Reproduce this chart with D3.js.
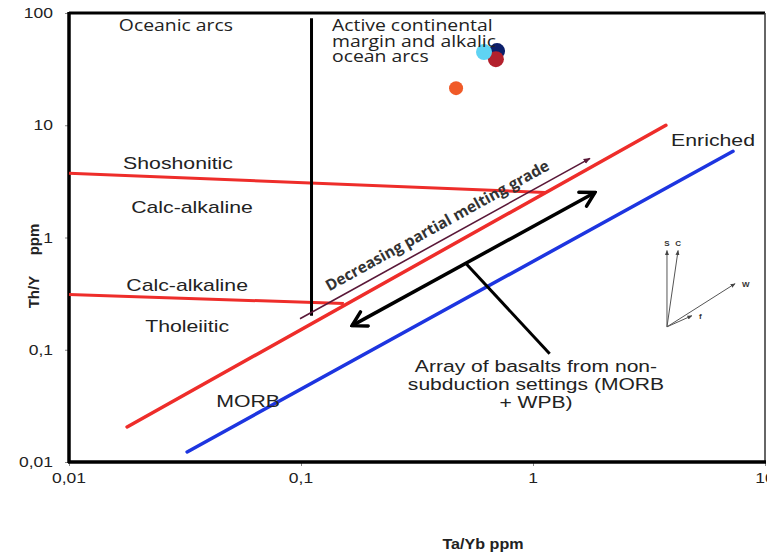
<!DOCTYPE html>
<html><head><meta charset="utf-8">
<script src="https://cdn.jsdelivr.net/npm/d3@7"></script>
<style>body{margin:0;background:#fff}svg{display:block}</style>
</head><body><svg id="c" width="767" height="556"></svg>
<script>
// ---- data ----
const xTicks = [0.01, 0.1, 1, 10];
const yTicks = [0.01, 0.1, 1, 10, 100];
const enrichedLine = [[0.0178, 0.0205], [3.74, 10]];
const morbLine = [[0.0323, 0.0123], [7.28, 5.86]];
const shoshoniticBoundary = [[0.01, 3.73], [1.127, 2.52]];
const tholeiiticBoundary = [[0.01, 0.31], [0.153, 0.258]];
const arcBoundary = [[0.111, 90], [0.111, 0.201]];
const meltingArrow = [[0.099, 0.189], [1.76, 5.07]];
const basaltArrow = [[0.166, 0.164], [1.85, 2.52]];
const basaltPointer = [[0.514, 0.586], [1.18, 0.092]];
const sampleX = [0.466, 0.70, 0.692, 0.615];
const sampleY = [21.4, 45.8, 38.8, 44.9];
const sampleColor = ["#f05a28", "#0b1f6b", "#b3202c", "#5fd3f3"];
const vectorOrigin = [3.78, 0.160];
const vectorNames = ["S", "C", "W", "f"];
const vectorTipX = [3.78, 4.22, 7.43, 4.84];
const vectorTipY = [0.766, 0.766, 0.388, 0.201];
const labels = [
  {t: "Oceanic arcs", x: 0.0289, y: 69.1, f: "Open Sans"},
  {t: "Shoshonitic", x: 0.0295, y: 4.05},
  {t: "Calc-alkaline", x: 0.0339, y: 1.64},
  {t: "Calc-alkaline", x: 0.0323, y: 0.336},
  {t: "Tholeiitic", x: 0.0323, y: 0.145},
  {t: "MORB", x: 0.0592, y: 0.031},
  {t: "Enriched", x: 5.97, y: 6.49}
];
const activeLines = ["Active continental", "margin and alkalic", "ocean arcs"];
const activePos = [0.136, 68.5];
const arrayLines = ["Array of basalts from non-", "subduction settings (MORB", "+ WPB)"];
const arrayPos = [1.03, 0.0637];
const meltingText = "Decreasing partial melting grade";
const meltingTextPos = [0.397, 1.16];

// ---- drawing ----
const SX = 1.25;
const svg = d3.select("#c");
const x = d3.scaleLog().domain([0.01, 10]).range([69, 765]);
const y = d3.scaleLog().domain([0.01, 100]).range([462, 13]);
const line = d3.line().x(d => x(d[0])).y(d => y(d[1]));
const fmt = v => String(v).replace(".", ",");

const defs = svg.append("defs");
defs.append("marker").attr("id", "tri").attr("viewBox", "0 0 10 10").attr("refX", 9).attr("refY", 5)
  .attr("markerWidth", 7).attr("markerHeight", 7).attr("orient", "auto-start-reverse").attr("markerUnits", "userSpaceOnUse")
  .append("path").attr("d", "M0,1 L10,5 L0,9 z").attr("fill", "#5a1838");
defs.append("marker").attr("id", "chev").attr("viewBox", "0 0 20 20").attr("refX", 18).attr("refY", 10)
  .attr("markerWidth", 20).attr("markerHeight", 20).attr("orient", "auto-start-reverse").attr("markerUnits", "userSpaceOnUse")
  .append("path").attr("d", "M4,2 L18,10 L4,18").attr("fill", "none").attr("stroke", "#000").attr("stroke-width", 3.5)
  .attr("stroke-linecap", "round").attr("stroke-linejoin", "miter");
defs.append("marker").attr("id", "small").attr("viewBox", "0 0 10 10").attr("refX", 9).attr("refY", 5)
  .attr("markerWidth", 5).attr("markerHeight", 5).attr("orient", "auto").attr("markerUnits", "userSpaceOnUse")
  .append("path").attr("d", "M0,1 L10,5 L0,9 z").attr("fill", "#444");

function txt(g, px, py, s, o = {}) {
  return g.append("text").attr("transform", `translate(${px},${py}) scale(${o.sx || SX},1)`)
    .attr("text-anchor", o.anchor || "middle")
    .attr("font-family", o.f || "'Liberation Sans', Arial, sans-serif")
    .attr("font-size", o.size || 17).attr("font-weight", o.w || "normal")
    .attr("fill", o.c || "#222").text(s);
}

// axes
const gx = svg.append("g").attr("transform", "translate(0,462)")
  .call(d3.axisBottom(x).tickValues(xTicks).tickFormat(fmt).tickSize(4).tickPadding(6));
const gy = svg.append("g").attr("transform", "translate(69,0)")
  .call(d3.axisLeft(y).tickValues(yTicks).tickFormat(fmt).tickSize(4).tickPadding(10));
[gx, gy].forEach(g => {
  g.select(".domain").remove();
  g.selectAll(".tick line").attr("stroke", "#888");
  g.selectAll(".tick text").remove();
});
xTicks.forEach(v => txt(svg, x(v), 483, fmt(v), {size: 14}));
yTicks.forEach(v => txt(svg, 53, y(v) + 5, fmt(v), {size: 14, anchor: "end"}));

// frame
svg.append("line").attr("x1", 69).attr("x2", 765).attr("y1", 13).attr("y2", 13).attr("stroke", "#000").attr("stroke-width", 3);
svg.append("line").attr("x1", 765).attr("x2", 765).attr("y1", 13).attr("y2", 462).attr("stroke", "#333").attr("stroke-width", 1.5);
svg.append("line").attr("x1", 69).attr("x2", 69).attr("y1", 12).attr("y2", 463).attr("stroke", "#000").attr("stroke-width", 3.5);
svg.append("line").attr("x1", 68).attr("x2", 766).attr("y1", 462).attr("y2", 462).attr("stroke", "#000").attr("stroke-width", 3.5);

// lines
svg.append("path").attr("d", line(morbLine)).attr("stroke", "#1d35e0").attr("stroke-width", 3.5).attr("fill", "none").attr("stroke-linecap", "round");
svg.append("path").attr("d", line(enrichedLine)).attr("stroke", "#ee2d2a").attr("stroke-width", 3.5).attr("fill", "none").attr("stroke-linecap", "round");
svg.append("path").attr("d", line(shoshoniticBoundary)).attr("stroke", "#ee2d2a").attr("stroke-width", 3).attr("fill", "none");
svg.append("path").attr("d", line(tholeiiticBoundary)).attr("stroke", "#ee2d2a").attr("stroke-width", 3).attr("fill", "none");
svg.append("path").attr("d", line(arcBoundary)).attr("stroke", "#000").attr("stroke-width", 3).attr("fill", "none");
svg.append("path").attr("d", line(meltingArrow)).attr("stroke", "#5a1838").attr("stroke-width", 1.6).attr("fill", "none").attr("marker-end", "url(#tri)");
svg.append("path").attr("d", line(basaltArrow)).attr("stroke", "#000").attr("stroke-width", 3.5).attr("fill", "none")
  .attr("marker-end", "url(#chev)").attr("marker-start", "url(#chev)");
svg.append("path").attr("d", line(basaltPointer)).attr("stroke", "#000").attr("stroke-width", 3).attr("fill", "none");

// vectors
const vg = svg.append("g");
vectorNames.forEach((n, i) => {
  vg.append("line").attr("x1", x(vectorOrigin[0])).attr("y1", y(vectorOrigin[1]))
    .attr("x2", x(vectorTipX[i])).attr("y2", y(vectorTipY[i])).attr("stroke", "#555").attr("stroke-width", 1)
    .attr("marker-end", "url(#small)");
  const side = n === "W" || n === "f";
  const lx = x(vectorTipX[i]) + (side ? 7 : 0);
  const ly = y(vectorTipY[i]) + (side ? 3 : -4);
  txt(vg, lx, ly, n, {size: 8, w: "bold", anchor: side ? "start" : "middle", c: "#333", sx: 1});
});

// samples
sampleX.forEach((v, i) => {
  svg.append("circle").attr("cx", x(v)).attr("cy", y(sampleY[i])).attr("r", i === 0 ? 7 : 8).attr("fill", sampleColor[i]);
});

// labels
labels.forEach(l => txt(svg, x(l.x), y(l.y), l.t, {size: l.f ? 15.5 : 17, f: l.f ? "'Open Sans', sans-serif" : undefined}));
activeLines.forEach((s, i) => txt(svg, x(activePos[0]), y(activePos[1]) + i * 15.5, s,
  {size: 15.5, f: "'Open Sans', sans-serif", anchor: "start"}));
arrayLines.forEach((s, i) => txt(svg, x(arrayPos[0]), y(arrayPos[1]) + i * 18, s, {size: 17, sx: 1.24}));

// melting label
const a0 = meltingArrow[0], a1 = meltingArrow[1];
const ang = Math.atan2(y(a1[1]) - y(a0[1]), x(a1[0]) - x(a0[0])) * 180 / Math.PI;
svg.append("text").attr("transform", `translate(${x(meltingTextPos[0])},${y(meltingTextPos[1])}) rotate(${ang})`)
  .attr("text-anchor", "middle").attr("font-family", "'Open Sans', sans-serif").attr("font-weight", "bold")
  .attr("font-size", 15.5).attr("fill", "#333").text(meltingText);

// axis titles
svg.append("text").attr("transform", "translate(39,266) rotate(-90)").attr("text-anchor", "middle")
  .attr("font-family", "'Liberation Sans', Arial, sans-serif").attr("font-weight", "bold").attr("font-size", 15)
  .attr("fill", "#222").style("white-space", "pre").text("Th/Y     ppm");
txt(svg, 483, 549, "Ta/Yb ppm", {size: 14, w: "bold", sx: 1.15});
</script></body></html>
